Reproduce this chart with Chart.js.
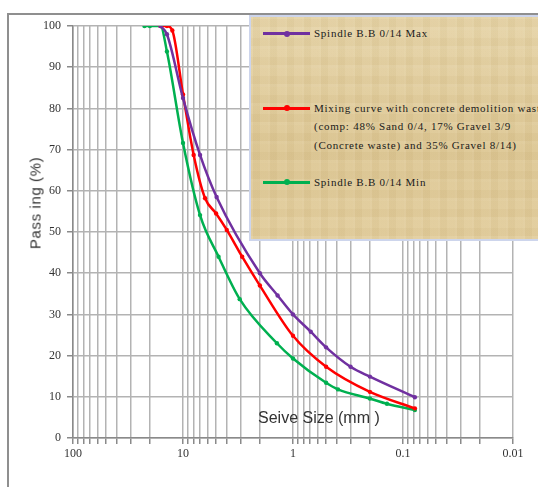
<!DOCTYPE html>
<html>
<head>
<meta charset="utf-8">
<script src="https://cdn.jsdelivr.net/npm/chart.js@4/dist/chart.umd.min.js"></script>
<style>
html, body { margin: 0; padding: 0; background: #fff; }
#wrap { position: relative; width: 538px; height: 487px; overflow: hidden; }
#frame { position: absolute; left: 7px; top: 13px; width: 700px; height: 700px;
         border-left: 2px solid #8f8f8f; border-top: 2px solid #8f8f8f; }
#c { position: absolute; left: 0; top: 0; }
#ytitle { position: absolute; left: 35px; top: 203px; transform: translate(-50%, -50%) rotate(-90deg);
          font: 15px "Liberation Sans", Arial, sans-serif; letter-spacing: 0.6px; color: #333; white-space: nowrap; }
#xtitle { position: absolute; left: 258px; top: 409px; font: 16px "Liberation Sans", Arial, sans-serif;
          color: #333; white-space: nowrap; }
#legend { position: absolute; left: 249px; top: 15px; width: 320px; height: 222px; overflow: hidden;
          border: 2px solid #cdd5ec; box-sizing: content-box;
          background-color: #e3cf9f;
          background-image:
            repeating-linear-gradient(90deg, rgba(255,255,255,0.06) 0 2px, rgba(120,90,30,0.03) 2px 9px, rgba(255,255,255,0.03) 9px 17px),
            repeating-linear-gradient(0deg, rgba(255,255,255,0.05) 0 3px, rgba(140,100,40,0.035) 3px 11px, rgba(255,255,255,0.02) 11px 19px),
            linear-gradient(180deg, #e6d4a7 0%, #ddc794 60%, #e2cd9c 100%); }
.item { position: relative; padding-left: 63px; font: 11px "Liberation Serif", "Times New Roman", serif;
        letter-spacing: 0.75px; line-height: 18.5px; color: #1a1a1a; white-space: nowrap; }
.item .sym { position: absolute; left: 12px; top: 8px; width: 47px; height: 3px; }
.item .sym i { position: absolute; left: 21px; top: -1.5px; width: 6px; height: 6px; border-radius: 50%; background: inherit; }
</style>
</head>
<body>
<div id="wrap">
  <div id="frame"></div>
  <canvas id="c" width="538" height="487"></canvas>
  <div id="ytitle">Pass ing (%)</div>
  <div id="xtitle">Seive Size (mm )</div>
  <div id="legend"></div>
</div>
<script>
// sieve sizes (mm) and passing (%)
const maxSize = [16, 14, 10, 7, 4.95, 2.0, 1.38, 1.0, 0.69, 0.5, 0.3, 0.2, 0.078];
const maxPass = [100, 98, 82.5, 68.7, 58.5, 40, 34.6, 30, 25.8, 22, 17.3, 14.9, 9.9];

const mixSize = [16, 14, 12.5, 10, 8, 6.3, 5, 4, 2.9, 2.0, 1.0, 0.5, 0.2, 0.078];
const mixPass = [100, 100, 98.9, 83.4, 68.7, 58.2, 54.5, 50.5, 44, 37, 24.8, 17.3, 11.2, 7.2];

const minSize = [22.4, 20, 16, 14, 10, 7, 4.75, 3.05, 1.4, 1.0, 0.5, 0.39, 0.2, 0.14, 0.078];
const minPass = [100, 100, 100, 93.8, 71.6, 54.1, 44, 33.7, 23, 19.3, 13.4, 11.8, 9.6, 8.3, 6.8];

const seriesNames = [
    ['Spindle B.B 0/14 Max'],
    ['Mixing curve with concrete demolition waste', '(comp: 48% Sand 0/4, 17% Gravel 3/9', '(Concrete waste) and 35% Gravel 8/14)'],
    ['Spindle B.B 0/14 Min'],
];
const seriesColors = ['#7030a0', '#ff0000', '#00b050'];

// x axis: decades labelled, every 1..9 multiple gets a grid line
const decadeValues = [100, 10, 1, 0.1, 0.01];
const decadeLabels = ['100', '10', '1', '0.1', '0.01'];
const yTicks = [0, 10, 20, 30, 40, 50, 60, 70, 80, 90, 100];

const gridValues = [];
[0.01, 0.1, 1, 10].forEach(d => {
    for (let m = 1; m < 10; m++) gridValues.push(+(d * m).toPrecision(3));
});
gridValues.push(100);

const toPoints = (xs, ys) => xs.map((x, i) => ({ x, y: ys[i] }));
const allSeries = [toPoints(maxSize, maxPass), toPoints(mixSize, mixPass), toPoints(minSize, minPass)];

const datasets = allSeries.map((pts, i) => ({
    label: seriesNames[i].join(' '),
    data: pts,
    borderColor: seriesColors[i],
    backgroundColor: seriesColors[i],
    borderWidth: 2.5,
    pointRadius: 2.2,
    pointBorderWidth: 0,
    cubicInterpolationMode: 'monotone',
}));

const gridCol = '#b3b3b3';
new Chart(document.getElementById('c').getContext('2d'), {
    type: 'line',
    data: { datasets },
    options: {
        responsive: false,
        animation: false,
        layout: { padding: { top: 26, right: 25, left: 0, bottom: 0 } },
        plugins: { legend: { display: false }, tooltip: { enabled: false } },
        scales: {
            x: {
                type: 'logarithmic', reverse: true, min: 0.01, max: 100,
                afterFit: s => { s.height = 49; },
                afterBuildTicks: s => { s.ticks = gridValues.map(v => ({ value: v })); },
                grid: { color: gridCol, lineWidth: 1.5, tickLength: 6, tickColor: '#8a8a8a' },
                border: { color: '#8a8a8a', width: 1.5 },
                ticks: {
                    autoSkip: false, maxRotation: 0, padding: 3, color: '#333',
                    font: { family: '"Liberation Serif", "Times New Roman", serif', size: 12 },
                    callback: v => {
                        const k = decadeValues.findIndex(d => Math.abs(d - v) < d * 1e-6);
                        return k >= 0 ? decadeLabels[k] : '';
                    },
                },
            },
            y: {
                min: 0, max: 100,
                afterFit: s => { s.width = 73; },
                afterBuildTicks: s => { s.ticks = yTicks.map(v => ({ value: v })); },
                grid: { color: gridCol, lineWidth: 1.5, tickLength: 6, tickColor: '#8a8a8a' },
                border: { color: '#8a8a8a', width: 1.5 },
                ticks: {
                    padding: 6, color: '#333',
                    font: { family: '"Liberation Serif", "Times New Roman", serif', size: 12 },
                },
            },
        },
    },
});

// legend box drawn over the plot, as in the original
const legendEl = document.getElementById('legend');
const itemGaps = [7, 56, 18.5];
seriesNames.forEach((lines, i) => {
    const item = document.createElement('div');
    item.className = 'item';
    item.style.marginTop = itemGaps[i] + 'px';
    const sym = document.createElement('div');
    sym.className = 'sym';
    sym.style.background = seriesColors[i];
    sym.appendChild(document.createElement('i'));
    item.appendChild(sym);
    lines.forEach(t => {
        const ln = document.createElement('div');
        ln.textContent = t;
        item.appendChild(ln);
    });
    legendEl.appendChild(item);
});
</script>
</body>
</html>
